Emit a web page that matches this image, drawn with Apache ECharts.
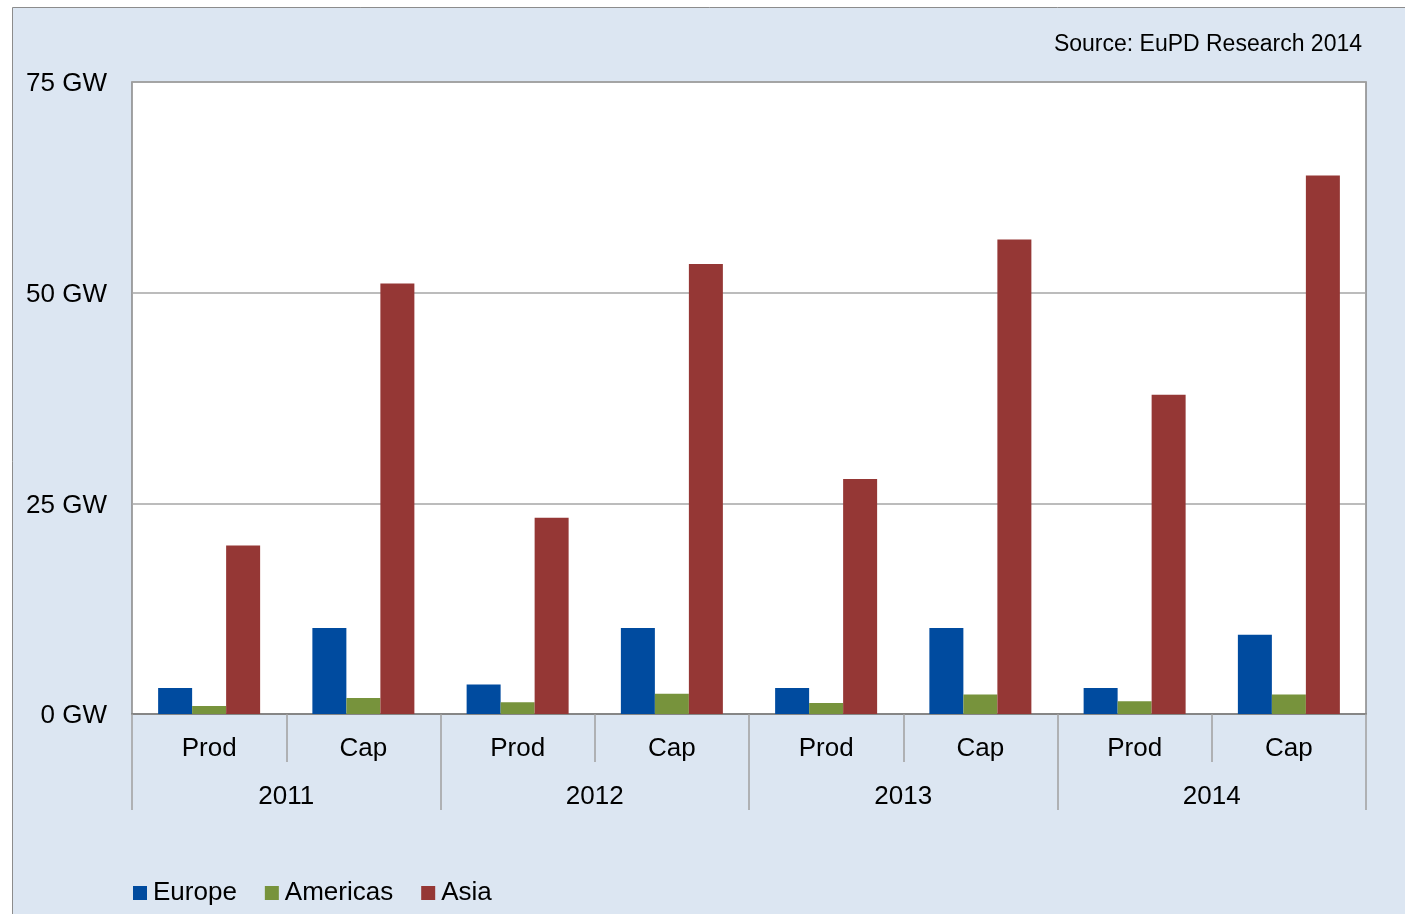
<!DOCTYPE html>
<html>
<head>
<meta charset="utf-8">
<script src="https://cdn.jsdelivr.net/npm/echarts@6/dist/echarts.min.js"></script>
<style>
html,body{margin:0;padding:0;background:#ffffff;}
#chart{width:1405px;height:914px;}
</style>
</head>
<body>
<div id="chart"></div>
<script>
var categories = ['Prod','Cap','Prod','Cap','Prod','Cap','Prod','Cap'];
var years = ['2011','2012','2013','2014'];
var europe   = [3.1, 10.2, 3.5, 10.2, 3.1, 10.2, 3.1, 9.4];
var americas = [0.95, 1.9, 1.4, 2.4, 1.3, 2.3, 1.5, 2.3];
var asia     = [20.0, 51.1, 23.3, 53.4, 27.9, 56.3, 37.9, 63.9];
var yTicks = [0, 25, 50, 75];
var sourceText = 'Source: EuPD Research 2014';

var FONT = '"Liberation Sans", Arial, sans-serif';
var chart = echarts.init(document.getElementById('chart'), null, {renderer:'canvas'});
var option = {
  animation: false,
  backgroundColor: '#ffffff',
  graphic: [
    {type:'rect', z:-10, shape:{x:12.5, y:7.5, width:1500, height:1000},
     style:{fill:'#DCE6F2', stroke:'#8C8C8C', lineWidth:1}},
    {type:'text', x:1362, y:45, style:{text:sourceText, fill:'#000', font:'23px ' + FONT,
     textAlign:'right', textVerticalAlign:'middle'}}
  ],
  legend: {
    left: 133, top: 880, padding: 0,
    itemWidth: 14, itemHeight: 14, itemGap: 28,
    icon: 'rect',
    textStyle: {fontFamily: FONT, fontSize: 26, color: '#000', padding:[0,0,0,1]},
    data: ['Europe','Americas','Asia']
  },
  grid: {
    left: 132, right: 39, top: 82, bottom: 200,
    show: true, backgroundColor: '#ffffff', borderColor: '#868686', borderWidth: 1.5
  },
  xAxis: [
    {
      type: 'category', data: categories, position: 'bottom',
      axisLine: {show: true, lineStyle: {color: '#868686', width: 2}},
      axisTick: {show: true, interval: 0, length: 48, lineStyle: {color: '#A0A0A0', width: 1.5}},
      axisLabel: {interval: 0, margin: 22, color: '#000', fontFamily: FONT, fontSize: 26},
      splitLine: {show: false}
    },
    {
      type: 'category', data: years, position: 'bottom', gridIndex: 0,
      axisLine: {show: false},
      axisTick: {show: true, interval: 0, length: 96, lineStyle: {color: '#A0A0A0', width: 1.5}},
      axisLabel: {interval: 0, margin: 70, color: '#000', fontFamily: FONT, fontSize: 26},
      splitLine: {show: false}
    }
  ],
  yAxis: {
    type: 'value', min: yTicks[0], max: yTicks[yTicks.length-1], interval: 25,
    axisLine: {show: false}, axisTick: {show: false},
    axisLabel: {
      formatter: function (v) { return '{a|' + v + ' GW}'; },
      margin: 25,
      rich: {a: {color: '#000', fontFamily: FONT, fontSize: 26, padding: [4,0,0,0]}}
    },
    splitLine: {lineStyle: {color: '#A6A6A6', width: 1.5}}
  },
  series: [
    {name:'Europe', type:'bar', data: europe, barWidth: 34, barGap: '0%', itemStyle:{color:'#004B9F'}},
    {name:'Americas', type:'bar', data: americas, barWidth: 34, barGap: '0%', itemStyle:{color:'#77933C'}},
    {name:'Asia', type:'bar', data: asia, barWidth: 34, barGap: '0%', itemStyle:{color:'#953735'}}
  ]
};
chart.setOption(option);
</script>
</body>
</html>
